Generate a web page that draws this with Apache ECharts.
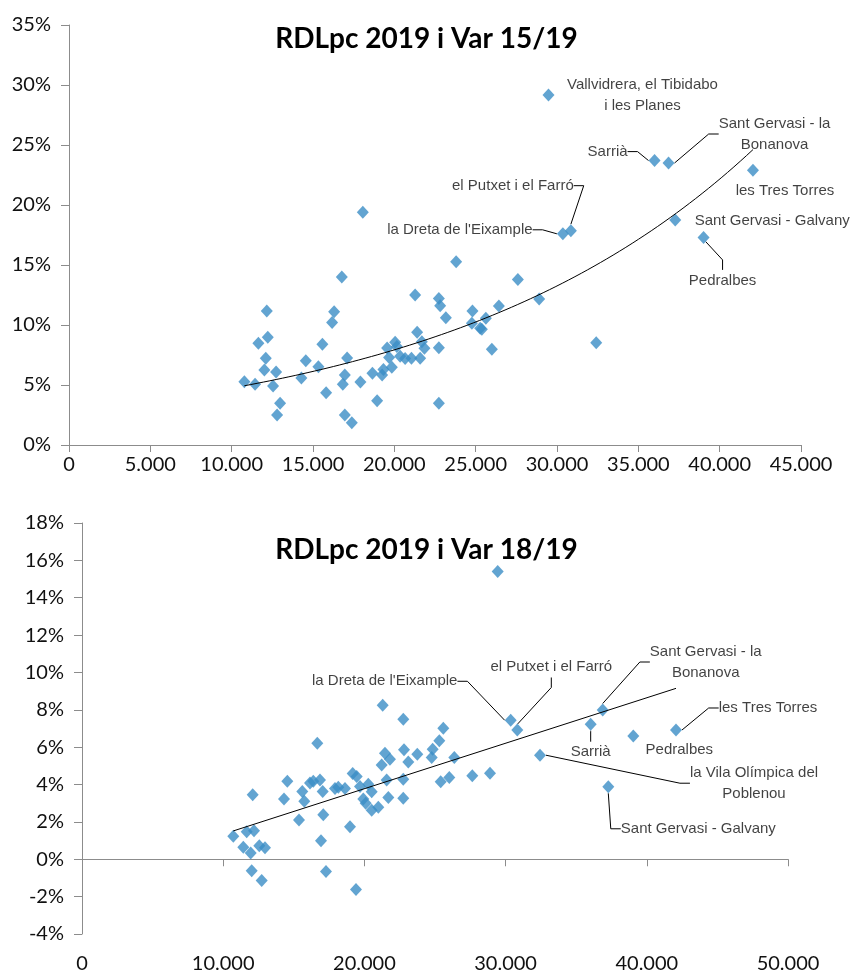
<!DOCTYPE html>
<html>
<head>
<meta charset="utf-8">
<title>RDLpc 2019</title>
<script src="https://cdn.jsdelivr.net/npm/echarts@6/dist/echarts.min.js"></script>
<style>
  html, body { margin: 0; padding: 0; background: #fff; }
  #main { width: 853px; height: 974px; }
</style>
</head>
<body>
<div id="main"></div>
<script>
// --- chart 1: RDLpc 2019 vs variation 15/19 (%) ---
var x15 = [10781, 11439, 11642, 12011, 12097, 12159, 12220, 12546, 12731, 12792, 12977, 14286, 14558, 15332, 15578, 15806, 16175, 16298, 16771, 16833, 16956, 16956, 17097, 17386, 17915, 18063, 18653, 18942, 19250, 19330, 19557, 19680, 19846, 20049, 20154, 20357, 20664, 21052, 21279, 21402, 21587, 21691, 21851, 22737, 22817, 22737, 22737, 23167, 23800, 24766, 24803, 25277, 25380, 25626, 25995, 26427, 27594, 28904, 32411]
var y15 = [5.28, 5.06, 8.47, 6.25, 7.22, 11.17, 8.97, 4.92, 6.08, 2.5, 3.47, 5.58, 7.02, 6.52, 8.39, 4.36, 10.2, 11.1, 14.0, 5.06, 5.83, 2.5, 7.25, 1.86, 5.25, 19.4, 5.97, 3.69, 5.83, 6.3, 8.08, 7.3, 6.47, 8.56, 8.2, 7.4, 7.2, 7.22, 12.5, 9.39, 7.22, 8.6, 8.06, 12.2, 11.6, 8.1, 3.47, 10.6, 15.28, 10.14, 11.17, 9.72, 9.64, 10.56, 7.97, 11.58, 13.8, 12.17, 8.53]
var names15 = ['Vallvidrera, el Tibidabo\ni les Planes', 'Sarrià', 'Sant Gervasi - la\nBonanova', 'les Tres Torres', 'Sant Gervasi - Galvany', 'Pedralbes', 'el Putxet i el Farró', "la Dreta de l'Eixample"]
var namedX15 = [29477, 35997, 36857, 42047, 37269, 39010, 30853, 30361]
var namedY15 = [29.17, 23.7, 23.5, 22.9, 18.75, 17.3, 17.86, 17.6]
var yTicks15 = [0, 35, 5]
var xTicks15 = [0, 45000, 5000]

// --- chart 2: RDLpc 2019 vs variation 18/19 (%) ---
var x18 = [10715, 11424, 11664, 11947, 12018, 12089, 12181, 12556, 12726, 12960, 14306, 14541, 15368, 15602, 15744, 16147, 16381, 16664, 16855, 16926, 17046, 17088, 17280, 17918, 18152, 18625, 18980, 19171, 19404, 19454, 19688, 19922, 20092, 20276, 20517, 20517, 20985, 21223, 21296, 21456, 21577, 21695, 21810, 22752, 22752, 22755, 22805, 23109, 23746, 24766, 24836, 25305, 25404, 25588, 26012, 26367, 27641, 28895, 29440]
var y18 = [1.23, 0.64, 1.47, 0.34, -0.61, 3.45, 1.53, 0.73, -1.14, 0.62, 3.22, 4.17, 2.1, 3.63, 3.1, 4.08, 4.17, 6.21, 4.25, 0.99, 3.63, 2.38, -0.66, 3.79, 3.85, 3.79, 1.74, 4.59, -1.62, 4.43, 3.9, 3.22, 3.0, 4.02, 3.61, 2.63, 2.78, 5.04, 8.24, 5.68, 4.25, 3.31, 5.36, 4.29, 3.26, 7.5, 5.86, 5.21, 5.62, 5.45, 5.89, 6.34, 4.15, 7.01, 4.38, 5.45, 4.47, 4.61, 15.4]
var names18 = ["la Dreta de l'Eixample", 'el Putxet i el Farró', 'Sant Gervasi - la\nBonanova', 'Sarrià', 'Pedralbes', 'les Tres Torres', 'la Vila Olímpica del\nPoblenou', 'Sant Gervasi - Galvany']
var namedX18 = [30361, 30829, 36877, 36026, 39044, 42068, 32436, 37274]
var namedY18 = [7.44, 6.92, 7.99, 7.23, 6.6, 6.92, 5.57, 3.88]
var yTicks18 = [-4, 18, 2]
var xTicks18 = [0, 50000, 10000]

// label offsets in px from the marker: [dx, dy, leader line]
var labelPos15 = [[94, 0, false], [-47, -9, true], [106, -29, true], [32, 21, false], [97, 1, false], [19, 43, true], [-58, -45, true], [-103, -4, true]]
var labelPos18 = [[-126, -39, true], [34, -63, true], [103, -48, true], [0, 28, true], [46, 14, false], [92, -22, true], [214, 28, true], [90, 42, true]]

var BLUE = '#3b8dc6'
var AXIS = '#8c8c8c'

function thousands (v) {
  return String(v).replace(/\B(?=(\d{3})+(?!\d))/g, '.')
}

function pairs (xs, ys) {
  return xs.map(function (x, i) { return [x, ys[i]] })
}

// Excel-like exponential trend: fit ln(y) = ln(a) + b*x
function expTrend (xs, ys, steps) {
  var n = xs.length, sx = 0, sy = 0, sxx = 0, sxy = 0
  for (var i = 0; i < n; i++) {
    var ly = Math.log(ys[i])
    sx += xs[i]; sy += ly; sxx += xs[i] * xs[i]; sxy += xs[i] * ly
  }
  var b = (n * sxy - sx * sy) / (n * sxx - sx * sx)
  var a = (sy - b * sx) / n
  var lo = Math.min.apply(null, xs), hi = Math.max.apply(null, xs)
  var out = []
  for (var k = 0; k <= steps; k++) {
    var x = lo + (hi - lo) * k / steps
    out.push([x, Math.exp(a + b * x)])
  }
  return out
}

function linTrend (xs, ys) {
  var n = xs.length, sx = 0, sy = 0, sxx = 0, sxy = 0
  for (var i = 0; i < n; i++) {
    sx += xs[i]; sy += ys[i]; sxx += xs[i] * xs[i]; sxy += xs[i] * ys[i]
  }
  var b = (n * sxy - sx * sy) / (n * sxx - sx * sx)
  var a = (sy - b * sx) / n
  var lo = Math.min.apply(null, xs), hi = Math.max.apply(null, xs)
  return [[lo, a + b * lo], [hi, a + b * hi]]
}

function namedData (names, xs, ys, pos) {
  return names.map(function (n, i) {
    return {
      name: n,
      value: [xs[i], ys[i]],
      labelLine: { show: pos[i][2] }
    }
  })
}

var allX15 = x15.concat(namedX15), allY15 = y15.concat(namedY15)
var allX18 = x18.concat(namedX18), allY18 = y18.concat(namedY18)

var axisFont = { fontFamily: 'Lato', fontSize: 20, color: '#111' }
var labelFont = { fontFamily: "'Liberation Sans', Arial, sans-serif", fontSize: 15, color: '#111', lineHeight: 21 }

function yAxisOf (grid, t) {
  return {
    type: 'value', gridIndex: grid, min: t[0], max: t[1], interval: t[2],
    axisLine: { show: true, onZero: false, lineStyle: { color: AXIS, width: 1 } },
    axisTick: { show: true, length: 8, lineStyle: { color: AXIS } },
    axisLabel: Object.assign({ margin: 18, formatter: function (v) { return v + '%' } }, axisFont),
    splitLine: { show: false }
  }
}

function namedSeries (xi, yi, names, xs, ys, pos) {
  return {
    type: 'scatter', xAxisIndex: xi, yAxisIndex: yi,
    symbol: 'diamond', symbolSize: [12, 13],
    itemStyle: { color: BLUE },
    data: namedData(names, xs, ys, pos),
    label: Object.assign({ show: true, position: 'inside', align: 'center', verticalAlign: 'middle',
      formatter: '{b}' }, labelFont),
    labelLine: { show: true, length2: 10, lineStyle: { color: '#000', width: 1 } },
    labelLayout: function (p) {
      var o = pos[p.dataIndex]
      return { dx: o[0], dy: o[1] }
    },
    z: 3
  }
}

var chart = echarts.init(document.getElementById('main'))
chart.setOption({
  animation: false,
  backgroundColor: '#fff',
  title: [
    { text: 'RDLpc 2019 i Var 15/19', left: 'center', top: 20,
      textStyle: { fontFamily: 'Lato', fontWeight: 'bold', fontSize: 28, color: '#000' } },
    { text: 'RDLpc 2019 i Var 18/19', left: 'center', top: 531,
      textStyle: { fontFamily: 'Lato', fontWeight: 'bold', fontSize: 28, color: '#000' } }
  ],
  grid: [
    { left: 69, right: 52, top: 25, height: 420 },
    { left: 82, right: 65, top: 523, height: 412 }
  ],
  xAxis: [
    { type: 'value', gridIndex: 0, min: xTicks15[0], max: xTicks15[1], interval: xTicks15[2],
      axisLine: { lineStyle: { color: AXIS } },
      axisTick: { show: true, length: 7, lineStyle: { color: AXIS } },
      axisLabel: Object.assign({ margin: 10, formatter: thousands }, axisFont),
      splitLine: { show: false } },
    // zero line with ticks
    { type: 'value', gridIndex: 1, position: 'bottom', min: xTicks18[0], max: xTicks18[1], interval: xTicks18[2],
      axisLine: { show: true, onZero: true, lineStyle: { color: AXIS } },
      axisTick: { show: true, length: 7, lineStyle: { color: AXIS } },
      axisLabel: { show: false },
      splitLine: { show: false } },
    // labels along the bottom
    { type: 'value', gridIndex: 1, position: 'bottom', min: xTicks18[0], max: xTicks18[1], interval: xTicks18[2],
      axisLine: { show: false, onZero: false },
      axisTick: { show: false },
      axisLabel: Object.assign({ margin: 20, formatter: thousands }, axisFont),
      splitLine: { show: false } }
  ],
  yAxis: [yAxisOf(0, yTicks15), yAxisOf(1, yTicks18)],
  series: [
    { type: 'scatter', xAxisIndex: 0, yAxisIndex: 0, symbol: 'diamond', symbolSize: [12, 13],
      itemStyle: { color: BLUE }, data: pairs(x15, y15), z: 3 },
    namedSeries(0, 0, names15, namedX15, namedY15, labelPos15),
    { type: 'line', xAxisIndex: 0, yAxisIndex: 0, showSymbol: false, silent: true,
      lineStyle: { color: '#000', width: 1 }, data: expTrend(allX15, allY15, 80), z: 4 },

    { type: 'scatter', xAxisIndex: 1, yAxisIndex: 1, symbol: 'diamond', symbolSize: [12, 13],
      itemStyle: { color: BLUE }, data: pairs(x18, y18), z: 3 },
    namedSeries(1, 1, names18, namedX18, namedY18, labelPos18),
    { type: 'line', xAxisIndex: 1, yAxisIndex: 1, showSymbol: false, silent: true,
      lineStyle: { color: '#000', width: 1 }, data: linTrend(allX18, allY18), z: 4 }
  ]
})
</script>
</body>
</html>
